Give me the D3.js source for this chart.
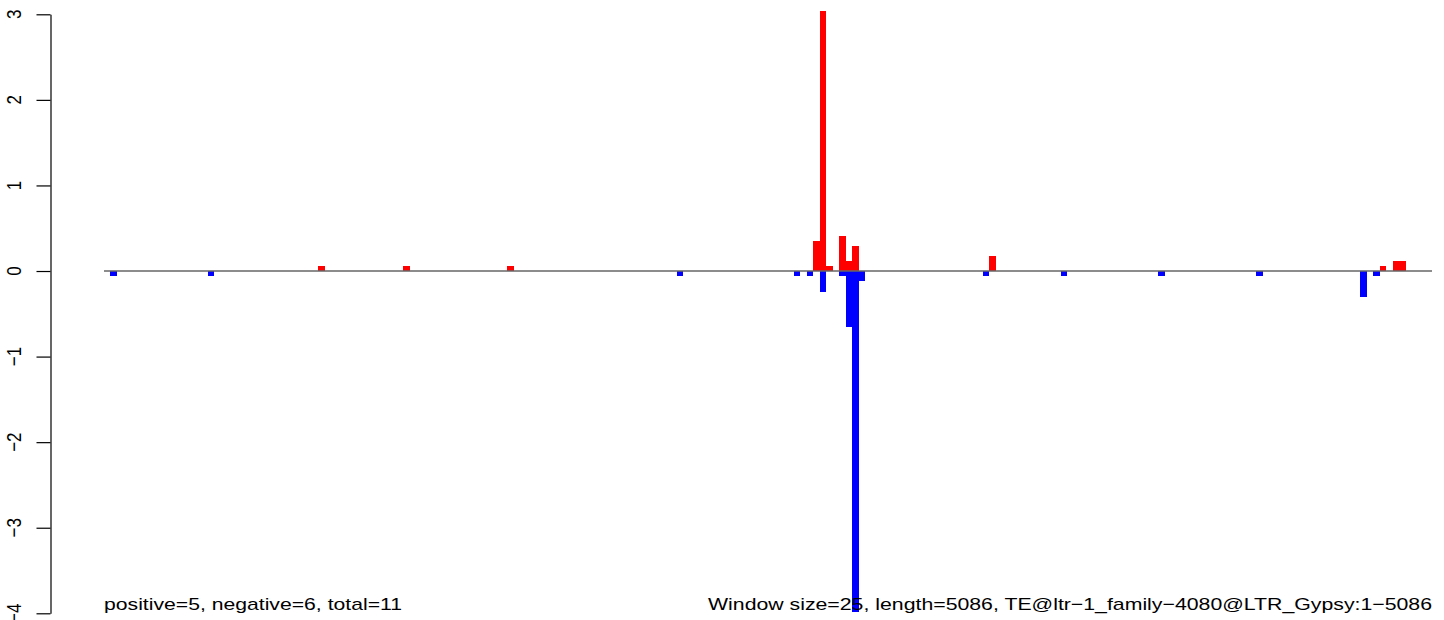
<!DOCTYPE html>
<html>
<head>
<meta charset="utf-8">
<script src="https://cdn.jsdelivr.net/npm/d3@7"></script>
<style>
  html, body { margin: 0; padding: 0; background: #fff; }
  svg { display: block; }
  text { font-family: "Liberation Sans", Arial, sans-serif; }
</style>
</head>
<body>
<svg id="chart" width="1444" height="620"></svg>
<script>
// ---- data ----
const windowSize = 25;
const seqLength = 5086;
const teName = "TE@ltr\u22121_family\u22124080@LTR_Gypsy:1\u22125086";
const positiveCount = 5, negativeCount = 6, totalCount = 11;

// window (bin) indices and values of the positive (red) bars
const posBins   = [32, 45, 61, 108, 109, 110, 112, 113, 114, 135, 195, 197, 198];
const posValues = [0.06, 0.06, 0.06, 0.35, 3.04, 0.06, 0.41, 0.12, 0.29, 0.18, 0.06, 0.12, 0.12];

// window (bin) indices and values of the negative (blue) bars
const negBins   = [0, 15, 87, 105, 107, 109, 112, 113, 114, 115, 134, 146, 161, 176, 192, 194];
const negValues = [-0.06, -0.06, -0.06, -0.06, -0.06, -0.24, -0.06, -0.66, -3.98, -0.12, -0.06, -0.06, -0.06, -0.06, -0.30, -0.06];

const yTicks = [-4, -3, -2, -1, 0, 1, 2, 3];

// ---- layout ----
const svg = d3.select("#chart");
const plotLeft = 104, plotRight = 1432;
const x = d3.scaleLinear().domain([-0.92, 203]).range([plotLeft, plotRight]);
const y = d3.scaleLinear().domain([-4, 3]).range([613.3, 14.3]);
const stretch = 1.2; // glyphs in the reference are horizontally widened

const bars = [
  ...posBins.map((b, i) => ({ bin: b, value: posValues[i], color: "#ff0000" })),
  ...negBins.map((b, i) => ({ bin: b, value: negValues[i], color: "#0000ff" }))
];

svg.append("g")
  .attr("shape-rendering", "crispEdges")
  .selectAll("rect")
  .data(bars)
  .join("rect")
  .attr("x", d => x(d.bin))
  .attr("width", d => x(d.bin + 1) - x(d.bin))
  .attr("y", d => y(Math.max(0, d.value)))
  .attr("height", d => Math.abs(y(d.value) - y(0)))
  .attr("fill", d => d.color);

// zero line
svg.append("line")
  .attr("x1", plotLeft).attr("x2", plotRight)
  .attr("y1", y(0)).attr("y2", y(0))
  .attr("stroke", "#666666").attr("stroke-width", 1.3);

// y axis
const yAxis = d3.axisLeft(y).tickValues(yTicks).tickSize(14).tickSizeOuter(0)
  .tickFormat(d => d < 0 ? "\u2212" + Math.abs(d) : String(d));
const ag = svg.append("g").attr("transform", "translate(50.5,0)").call(yAxis);
ag.select(".domain").attr("stroke", "#000").attr("stroke-width", 1.2);
ag.selectAll(".tick line").attr("stroke", "#000").attr("stroke-width", 1.2);
ag.selectAll(".tick text").remove();

svg.append("g").selectAll("text")
  .data(yTicks)
  .join("text")
  .attr("transform", d => `translate(20.7,${y(d)}) scale(${stretch},1) rotate(-90)`)
  .attr("text-anchor", "middle")
  .attr("font-size", 17)
  .attr("fill", "#000")
  .text(d => d < 0 ? "\u2212" + Math.abs(d) : String(d));

// bottom annotations
const leftLabel = `positive=${positiveCount}, negative=${negativeCount}, total=${totalCount}`;
const rightLabel = `Window size=${windowSize}, length=${seqLength}, ${teName}`;

svg.append("text")
  .attr("x", 104).attr("y", 610)
  .attr("font-size", 17)
  .attr("textLength", 298).attr("lengthAdjust", "spacingAndGlyphs")
  .text(leftLabel);

svg.append("text")
  .attr("x", 1432 - 724).attr("y", 610)
  .attr("font-size", 17)
  .attr("textLength", 724).attr("lengthAdjust", "spacingAndGlyphs")
  .text(rightLabel);
</script>
</body>
</html>
